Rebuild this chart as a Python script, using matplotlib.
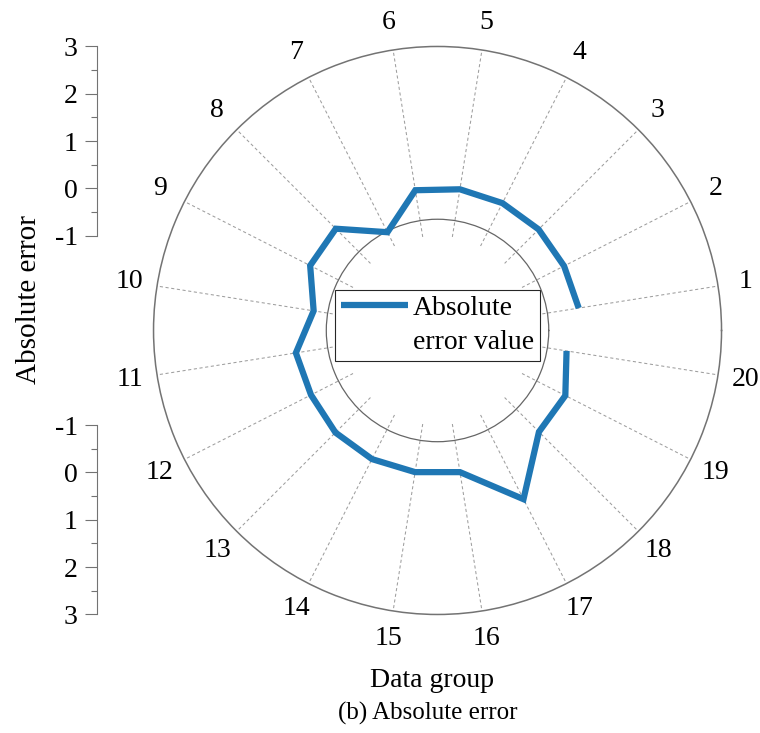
import numpy as np
import matplotlib.pyplot as plt
from matplotlib.ticker import MultipleLocator
from matplotlib.legend_handler import HandlerLine2D

plt.rcParams['font.family'] = ['Liberation Serif', 'DejaVu Serif']
plt.rcParams['axes.unicode_minus'] = False

# absolute error of each data group
groups = [str(i) for i in range(1, 21)]
abs_error = [0.02, 0.00, 0.02, 0.02, 0.02, 0.00, -0.67, 0.04, 0.02, -0.35,
             0.03, 0.00, 0.05, 0.05, 0.03, 0.03, 1.00, 0.03, 0.03, -0.24]

r_min, r_max = -1, 3
r_origin = -3
ref_circle = -0.65

theta = np.deg2rad(9 + 18 * np.arange(len(groups)))


# legend line sits next to the first line of a two-line label
class FirstLineHandler(HandlerLine2D):
    def create_artists(self, legend, orig_handle, xdescent, ydescent,
                       width, height, fontsize, trans):
        arts = super().create_artists(legend, orig_handle, xdescent, ydescent,
                                      width, height, fontsize, trans)
        for a in arts:
            a.set_ydata(np.asarray(a.get_ydata()) + 0.74 * fontsize)
        return arts


fig = plt.figure(figsize=(7.6, 7.33), dpi=100)

# polar panel
px, py, pw, ph = 0.2020, 0.1617, 0.7474, 0.7749
ax = fig.add_axes([px, py, pw, ph], projection='polar')
ax.set_ylim(r_min, r_max)
ax.set_rorigin(r_origin)

ax.set_xticks(theta)
ax.set_xticklabels(groups, fontsize=20)
ax.set_xticks(np.deg2rad(np.arange(0, 360, 18)), minor=True)
ax.tick_params(axis='x', which='both', direction='in', length=4.5,
               width=0.8, color='0.4', pad=13)
ax.xaxis.grid(True, linestyle=(0, (3, 2.5)), color='0.62', lw=0.75)

ax.set_yticks([ref_circle])
ax.set_yticklabels([])
ax.tick_params(axis='y', length=0)
ax.yaxis.grid(True, linestyle='-', color='0.4', lw=0.9)

ax.spines['polar'].set_color('0.45')
ax.spines['polar'].set_linewidth(1.1)
ax.spines['inner'].set_edgecolor('none')

ax.plot(theta, abs_error, color='#1f77b4', lw=4.5,
        solid_joinstyle='miter', solid_capstyle='butt',
        label='Absolute\nerror value')

leg = ax.legend(loc='center', bbox_to_anchor=(0.5, 0.509), fontsize=20,
                fancybox=False, edgecolor='0.15', framealpha=1,
                handlelength=2.4, handletextpad=0.2, borderpad=0.2,
                borderaxespad=0,
                handler_map={plt.Line2D: FirstLineHandler()})
leg.get_frame().set_linewidth(0.8)
for t in leg.get_texts():
    t.set_linespacing(1.5)

# radial scale drawn beside the polar panel, above and below the centre
yc = py + ph / 2
frac = (r_min - r_origin) / (r_max - r_origin)
seg_h = ph / 2 * (1 - frac)
ax_top = fig.add_axes([0.1272, yc + ph / 2 * frac, 0.001, seg_h])
ax_top.set_ylim(r_min, r_max)
ax_bot = fig.add_axes([0.1272, py, 0.001, seg_h])
ax_bot.set_ylim(r_max, r_min)

for a in (ax_top, ax_bot):
    for s in ('top', 'right', 'bottom'):
        a.spines[s].set_visible(False)
    a.spines['left'].set_color('0.45')
    a.set_xticks([])
    a.yaxis.set_major_locator(MultipleLocator(1))
    a.yaxis.set_minor_locator(MultipleLocator(0.5))
    a.tick_params(axis='y', which='major', direction='out', length=8.5,
                  width=0.8, color='0.45', labelsize=20, pad=5)
    a.tick_params(axis='y', which='minor', direction='out', length=4.5,
                  width=0.8, color='0.45')
    a.patch.set_visible(False)

fig.text(0.038, 0.591, 'Absolute error', rotation=90, fontsize=21,
         ha='center', va='center')
fig.text(0.569, 0.071, 'Data group', fontsize=20, ha='center', va='center')
fig.text(0.563, 0.026, '(b) Absolute error', fontsize=18, ha='center',
         va='center')

fig.savefig('out.png', dpi=100)
